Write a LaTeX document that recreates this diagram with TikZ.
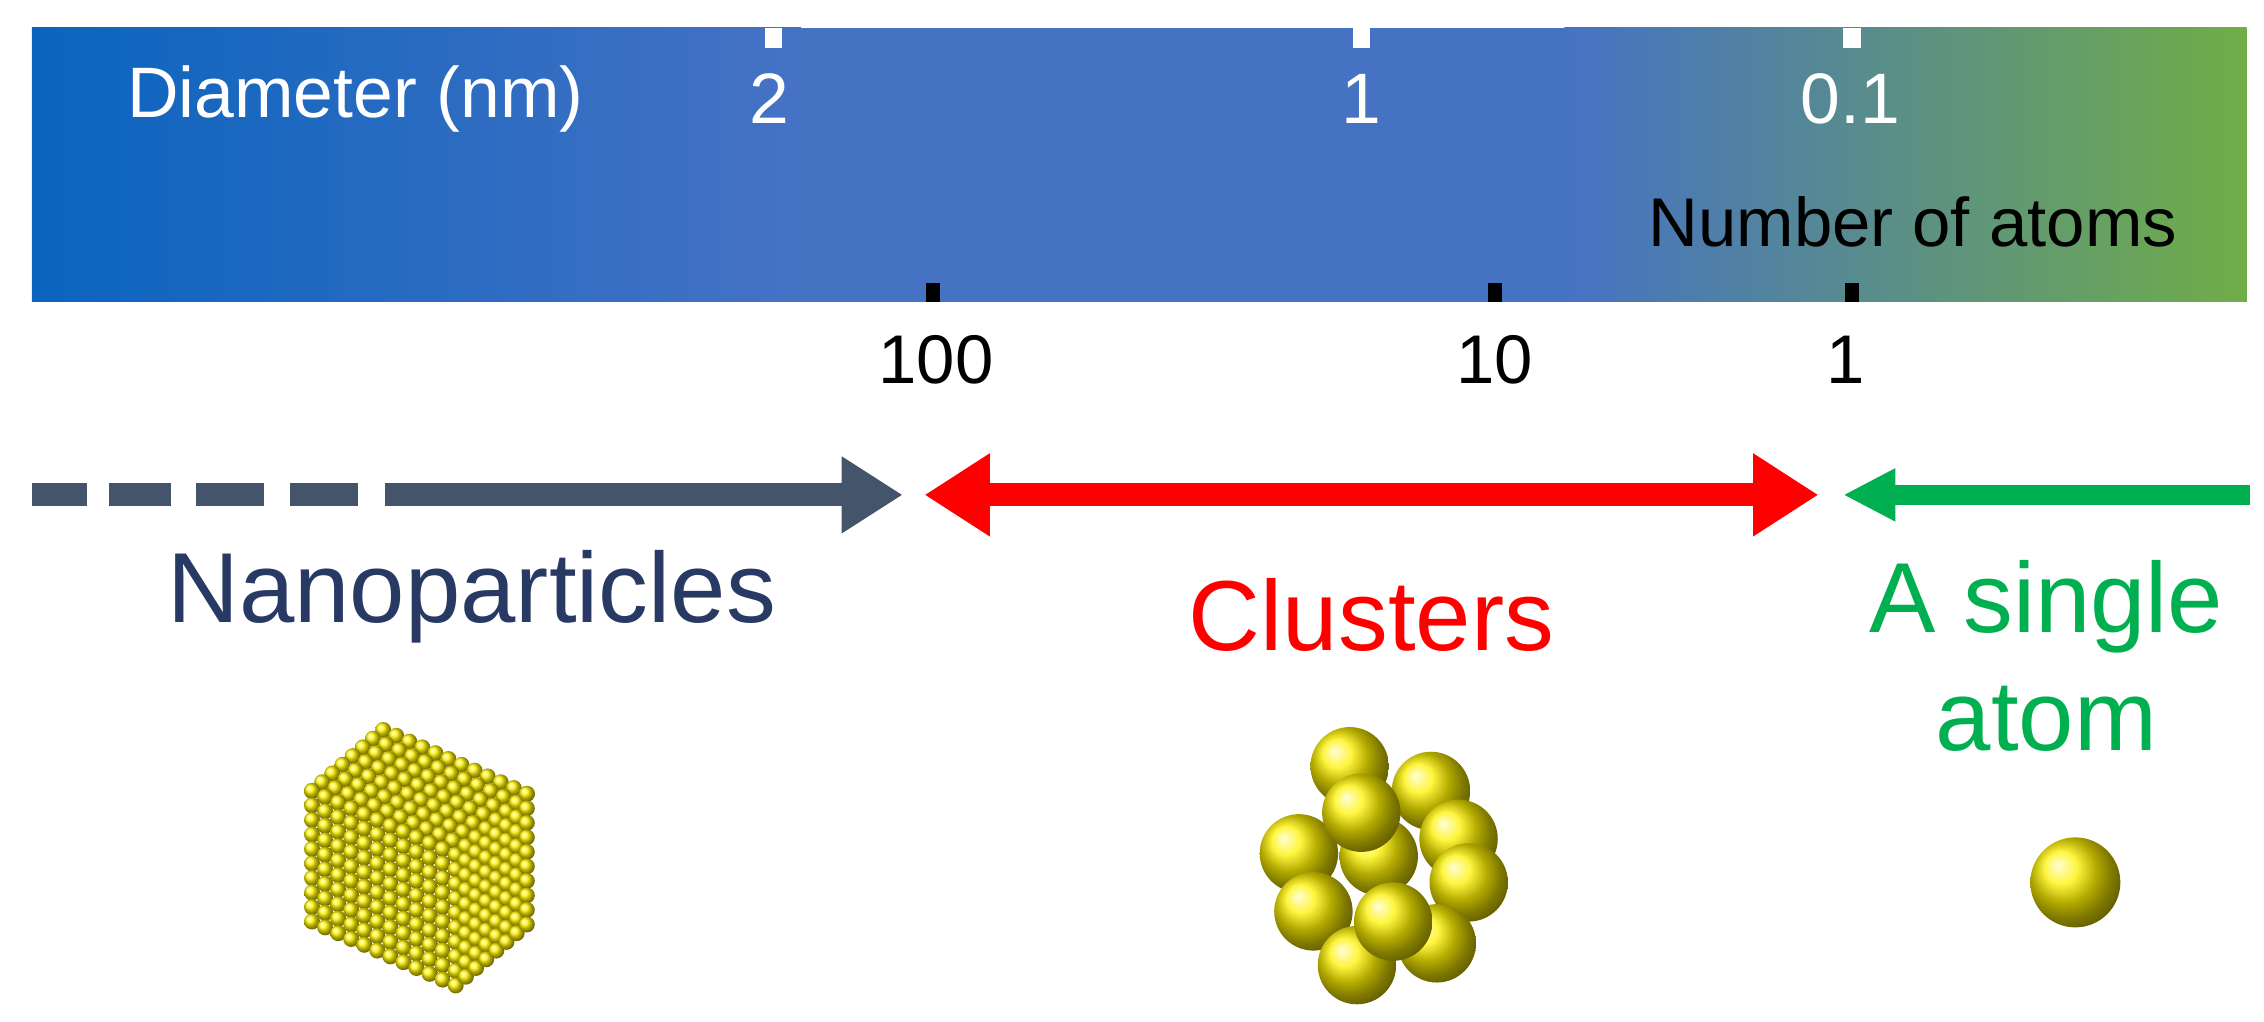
\documentclass[tikz,border=0pt]{standalone}
\usepackage{fontspec}
\setmainfont{Liberation Sans}
\usetikzlibrary{arrows.meta}
\definecolor{cA}{RGB}{10,100,190}
\definecolor{cB}{RGB}{70,114,196}
\definecolor{cC}{RGB}{112,173,71}
\definecolor{navy}{RGB}{40,58,100}
\definecolor{dgray}{RGB}{68,84,106}
\definecolor{gr}{RGB}{0,176,80}
\definecolor{rd}{RGB}{255,0,0}
\tikzset{
 wt/.style={white,font=\fontsize{14}{16}\selectfont},
 bt/.style={black,font=\fontsize{13.5}{16}\selectfont},
 big/.style={font=\fontsize{19.5}{23}\selectfont},
 ball/.style={ball color=yellow!90!orange},
}
\begin{document}
\begin{tikzpicture}[x=0.01cm,y=-0.01cm]
\useasboundingbox (0,0) rectangle (1560,704);
\begin{scope}
\clip (22,19) rectangle (1548,208);
\fill[cB] (22,19) rectangle (1548,208);
\shade[left color=cA,right color=cB] (22,10) rectangle (552,215);
\shade[left color=cB,right color=cC] (1078,10) rectangle (1548,215);
\end{scope}
\foreach \x in {533,938,1276}{\fill[white] (\x-6,19) rectangle (\x+6,33);}
\foreach \x in {643,1030,1276}{\fill[black] (\x-5,195) rectangle (\x+5,208);}
\node[wt] (dia) at (245,68) {Diameter (nm)};
\node[wt] (d2) at (530,68) {2};
\node[wt] (d1) at (938,68) {1};
\node[wt] (d01) at (1275,68) {0.1};
\node[bt] (noa) at (1318,153) {Number of atoms};
\node[bt] (n100) at (645,248) {100};
\node[bt] (n10) at (1030,248) {10};
\node[bt] (n1) at (1272,248) {1};
% arrows
\coordinate (gs) at (265,341); \coordinate (ge) at (622,341);
\foreach \a/\b in {22/60,75/118,135/182,200/247}{\fill[dgray] (\a,333) rectangle (\b,349);}
\draw[dgray,line width=16*0.2845pt,-{Triangle[length=42*0.2845pt,width=50*0.2845pt]}] (gs) -- (ge);
\coordinate (rs) at (637,341); \coordinate (re) at (1253,341);
\draw[rd,line width=16*0.2845pt,{Triangle[length=45*0.2845pt,width=54*0.2845pt]}-{Triangle[length=45*0.2845pt,width=54*0.2845pt]}] (rs) -- (re);
\coordinate (es) at (1550,341); \coordinate (ee) at (1270,341);
\draw[gr,line width=14*0.2845pt,-{Triangle[length=36*0.2845pt,width=34*0.2845pt]}] (es) -- (ee);
\node[big,navy] (np) at (325,411) {Nanoparticles};
\node[big,rd] (cl) at (945,424) {Clusters};
\node[big,gr,align=center] (sa) at (1410,452) {A single\\atom};
% nanoparticle: top, front, right faces
\foreach \j in {7,6,...,0}{\foreach \i in {0,...,11}{
 \shade[ball] ({215+\i*9+\j*7},{545+\i*4-\j*6}) circle (0.055cm);}}
\foreach \j in {0,...,9}{\foreach \i in {0,...,11}{
 \shade[ball] ({215+\i*9},{545+\i*4+\j*10}) circle (0.055cm);}}
\foreach \j in {0,...,9}{\foreach \i in {1,...,7}{
 \shade[ball] ({314+\i*7},{589-\i*6+\j*10}) circle (0.055cm);}}
% cluster
\foreach \p in {(930,528),(986,545),(895,588),(1005,578),(950,590),(905,628),(1012,608),(990,650),(935,665),(960,635),(938,560)}{
 \shade[ball] \p circle (0.27cm);}
% single atom
\shade[ball] (1430,608) circle (0.31cm);
\end{tikzpicture}
\end{document}
